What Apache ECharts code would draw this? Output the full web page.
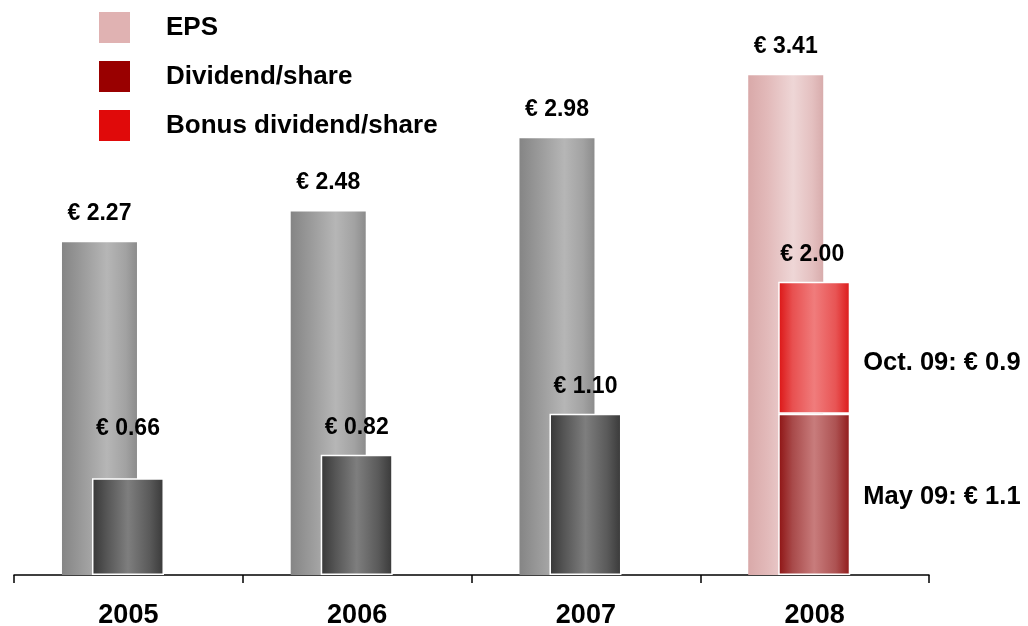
<!DOCTYPE html>
<html>
<head>
<meta charset="utf-8">
<script src="https://cdn.jsdelivr.net/npm/echarts@6/dist/echarts.min.js"></script>
<style>
html,body{margin:0;padding:0;background:#fff;}
#chart{width:1028px;height:626px;}
</style>
</head>
<body>
<div id="chart"></div>
<script>
var categories = ['2005', '2006', '2007', '2008'];
var epsValues = [2.27, 2.48, 2.98, 3.41];
var dividendValues = [0.66, 0.82, 1.10, 1.1];
var bonusValues = [null, null, null, 0.9];
var dividendTotal2008 = 2.00;
var mayLabel = 'May 09: € 1.1';
var octLabel = 'Oct. 09: € 0.9';

var FONT = '"Liberation Sans", Arial, sans-serif';

function hGrad(stops) {
  return new echarts.graphic.LinearGradient(0, 0, 1, 0, stops.map(function (s) { return { offset: s[0], color: s[1] }; }));
}
var grayEps = [[0, '#858585'], [0.25, '#999999'], [0.6, '#b6b6b6'], [0.85, '#a2a2a2'], [1, '#8c8c8c']];
var pinkEps = [[0, '#d9a9a9'], [0.25, '#e2b9b9'], [0.6, '#eed6d6'], [0.85, '#e4c0c0'], [1, '#d8acac']];
var grayDiv = [[0, '#363636'], [0.2, '#555555'], [0.5, '#7e7e7e'], [0.8, '#5a5a5a'], [1, '#383838']];
var redDiv = [[0, '#8e1212'], [0.2, '#a84a4a'], [0.5, '#c87c7c'], [0.8, '#ad5252'], [1, '#901818']];
var redBonus = [[0, '#dc1414'], [0.2, '#e85050'], [0.5, '#f07c7c'], [0.8, '#e85454'], [1, '#dc1818']];

var labelBase = { show: true, fontFamily: FONT, fontWeight: 'bold', fontSize: 23, color: '#000' };
var sideLabel = Object.assign({}, labelBase, { fontSize: 25.5 });

var epsData = epsValues.map(function (v, i) {
  var last = i === categories.length - 1;
  return {
    value: v,
    itemStyle: { color: hGrad(last ? pinkEps : grayEps) },
    label: Object.assign({}, labelBase, { position: 'top', distance: 17, formatter: '€ ' + v.toFixed(2) })
  };
});

var divData = dividendValues.map(function (v, i) {
  var last = i === categories.length - 1;
  var lbl;
  if (last) {
    lbl = Object.assign({}, sideLabel, { position: 'right', distance: 13, offset: [0, 3], formatter: mayLabel });
  } else {
    lbl = Object.assign({}, labelBase, { position: 'top', distance: i === 0 ? 38 : 16, formatter: '€ ' + v.toFixed(2) });
  }
  return { value: v, itemStyle: { color: hGrad(last ? redDiv : grayDiv) }, label: lbl };
});

var bonusData = bonusValues.map(function (v) {
  if (v == null) return '-';
  return {
    value: v,
    itemStyle: { color: hGrad(redBonus) },
    label: Object.assign({}, sideLabel, { position: 'right', distance: 13, offset: [0, 15], formatter: octLabel })
  };
});

var totalData = bonusValues.map(function (v) {
  if (v == null) return '-';
  return {
    value: 0,
    itemStyle: { color: 'rgba(0,0,0,0)', borderWidth: 0 },
    label: Object.assign({}, labelBase, { position: 'top', distance: 16, offset: [-2, 0], formatter: '€ ' + dividendTotal2008.toFixed(2) })
  };
});

var chart = echarts.init(document.getElementById('chart'), null, { renderer: 'canvas' });
chart.setOption({
  animation: false,
  backgroundColor: '#ffffff',
  legend: {
    data: ['EPS', 'Dividend/share', 'Bonus dividend/share'],
    orient: 'vertical',
    left: 99,
    top: 12,
    padding: 0,
    itemWidth: 31,
    itemHeight: 31,
    itemGap: 18,
    icon: 'rect',
    itemStyle: { borderWidth: 0 },
    textStyle: { fontFamily: FONT, fontWeight: 'bold', fontSize: 26, color: '#000', padding: [0, 0, 0, 31] }
  },
  grid: { left: 14, right: 99, top: 62, bottom: 51, containLabel: false, outerBoundsMode: 'none' },
  xAxis: {
    type: 'category',
    data: categories,
    axisLine: { lineStyle: { color: '#000', width: 1.5 } },
    axisTick: { show: true, length: 8, lineStyle: { color: '#000', width: 1.5 } },
    axisLabel: { fontFamily: FONT, fontWeight: 'bold', fontSize: 27, color: '#000', margin: 27 }
  },
  yAxis: {
    type: 'value',
    min: 0,
    max: 3.5,
    show: false,
    splitLine: { show: false }
  },
  series: [
    {
      name: 'EPS',
      type: 'bar',
      barWidth: 75,
      barGap: '-60%',
      itemStyle: { color: '#e0b2b2' },
      data: epsData
    },
    {
      name: 'Dividend/share',
      type: 'bar',
      stack: 'div',
      barWidth: 72,
      barGap: '-60%',
      itemStyle: { color: '#990000', borderColor: '#ffffff', borderWidth: 1.5 },
      data: divData
    },
    {
      name: 'Bonus dividend/share',
      type: 'bar',
      stack: 'div',
      barWidth: 72,
      barGap: '-60%',
      itemStyle: { color: '#e00a0a', borderColor: '#ffffff', borderWidth: 1.5 },
      data: bonusData
    },
    {
      name: 'total',
      type: 'bar',
      stack: 'div',
      barWidth: 72,
      barGap: '-60%',
      itemStyle: { color: 'rgba(0,0,0,0)' },
      data: totalData
    },
    {
      name: 'spacer',
      type: 'bar',
      stack: 'spacer',
      barWidth: 74,
      barGap: '-60%',
      data: []
    }
  ]
});
</script>
</body>
</html>
